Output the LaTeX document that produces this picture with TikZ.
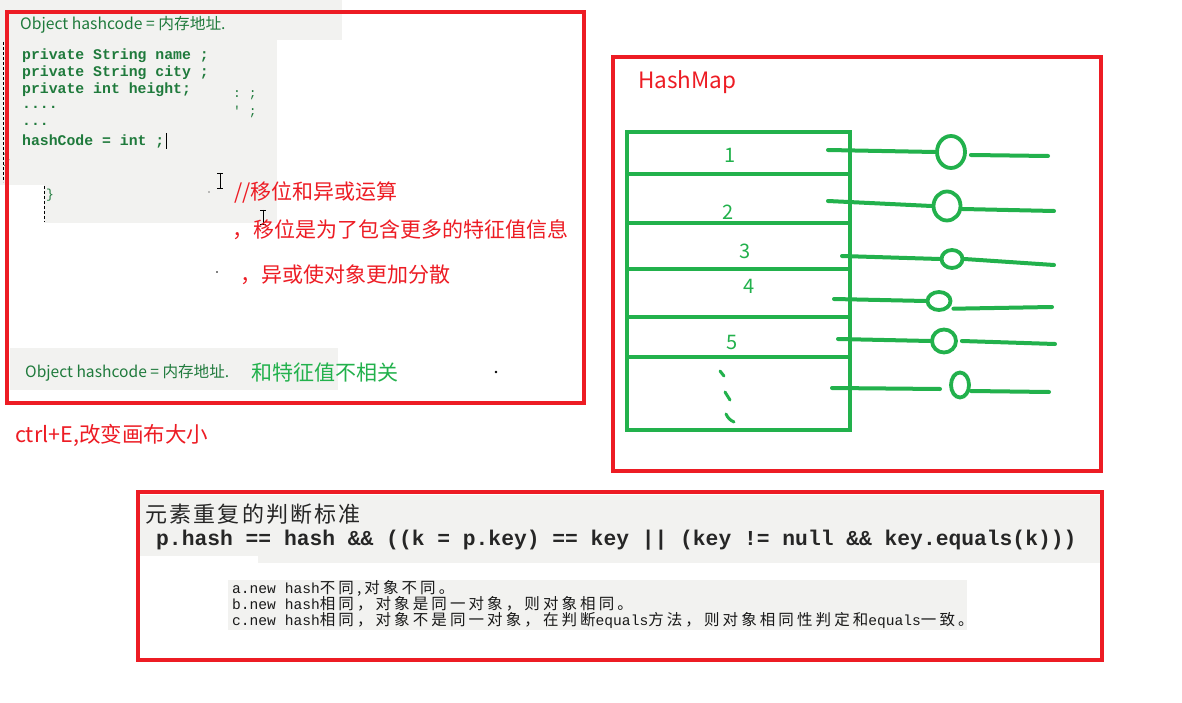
\documentclass[tikz,border=0pt]{standalone}
\usepackage{fontspec}
\usetikzlibrary{shapes.geometric}
\setmonofont{Liberation Mono}
\newfontfamily\cjk{Noto Sans CJK SC}
\newfontfamily\cjkw[LetterSpace=20]{Noto Sans CJK SC}
\newfontfamily\cjkt[LetterSpace=10]{Noto Sans CJK SC}
\definecolor{pred}{HTML}{ED1C24}
\definecolor{pgreen}{HTML}{22B14C}
\definecolor{cgreen}{HTML}{1F7A3C}
\definecolor{bg}{HTML}{F2F2F0}
\newcommand\zw[1]{{\cjkw\mdseries\fontsize{15.5}{16}\selectfont #1}}
\begin{document}
\begin{tikzpicture}[x=1pt,y=-1pt,
  redbox/.style={draw=pred,line width=4pt},
  txt/.style={anchor=west,inner sep=0pt},
  code/.style={txt,font=\ttfamily\bfseries\fontsize{14.8}{15}\selectfont,text=cgreen},
  rednote/.style={txt,font=\cjk\fontsize{21}{21}\selectfont,text=pred},
  hm/.style={draw=pgreen,line width=4pt,line cap=round},
  knot/.style={draw=pgreen,line width=3.8pt,ellipse,inner sep=0pt},
  num/.style={anchor=center,inner sep=0pt,font=\cjk\fontsize{20}{20}\selectfont,text=pgreen},
  abc/.style={txt,font=\ttfamily\fontsize{14.6}{15}\selectfont,text=black!90}
]
\useasboundingbox (0,0) rectangle (1182,703);
\fill[white] (0,0) rectangle (1182,703);
% grey backgrounds
\fill[bg] (0,0) rectangle (342,40);
\fill[bg] (0,40) rectangle (277,185);
\fill[bg] (44,185) rectangle (277,223);
\fill[bg] (10,348) rectangle (338,390);
\fill[bg] (139,495) rectangle (1100,556);
\fill[bg] (258,556) rectangle (1100,563);
\fill[bg] (228,580) rectangle (967,630);
% small artefacts
\draw[densely dashed,line width=0.6pt] (3,42) -- (3,182);
\draw[densely dashed,line width=0.6pt] (44,186) -- (44,222);
\node[txt,font=\ttfamily\fontsize{13}{13}\selectfont,text=cgreen] (br1) at (3,160) {\}};
\node[txt,font=\ttfamily\fontsize{13}{13}\selectfont,text=cgreen] (br2) at (46,195) {\}};
\node[txt,font=\ttfamily\fontsize{13}{13}\selectfont,text=cgreen] (fr1) at (233,95) {: ;};
\node[txt,font=\ttfamily\fontsize{13}{13}\selectfont,text=cgreen] (fr2) at (233,112) {' ;};
\draw[line width=0.8pt] (166,133) -- (166,149);
\draw[line width=0.8pt] (220,173) -- (220,188) (217,173) -- (223,173) (217,188) -- (223,188);
\draw[line width=0.8pt] (263,210) -- (263,224) (260,210) -- (266,210) (260,224) -- (266,224);
\fill (217,272) circle (0.8);
\fill (496,372) circle (1.4);
\fill (209,192) circle (0.6);
% first red box
\draw[redbox] (7,12) rectangle (584,403);
\node[txt,font=\cjk\fontsize{15.7}{16}\selectfont,text=cgreen] (oh1) at (20,25) {Object hashcode = 内存地址.};
\node[code] (c1) at (22,56) {private String name ;};
\node[code] (c2) at (22,73) {private String city ;};
\node[code] (c3) at (22,90) {private int height;};
\node[code] (c4) at (22,107) {....};
\node[code] (c5) at (22,124) {...};
\node[code] (c6) at (22,141) {hashCode = int ;};
\node[rednote] (r1) at (234,192) {//移位和异或运算};
\node[rednote] (r2) at (232,230) {，移位是为了包含更多的特征值信息};
\node[rednote] (r3) at (240,275) {，异或使对象更加分散};
\node[txt,font=\cjk\fontsize{15.6}{16}\selectfont,text=cgreen] (oh2) at (25,373) {Object hashcode = 内存地址.};
\node[txt,font=\cjk\fontsize{21}{21}\selectfont,text=pgreen] (unrel) at (251,373) {和特征值不相关};
\node[txt,font=\cjk\fontsize{21.5}{22}\selectfont,text=pred] (ctrl) at (15,435) {ctrl+E,改变画布大小};
% HashMap box
\draw[redbox] (613,57) rectangle (1101,471);
\node[txt,font=\cjk\fontsize{22.5}{23}\selectfont,text=pred] (hmt) at (638,82) {HashMap};
\draw[hm,line cap=butt] (627,132) rectangle (850,430);
\draw[hm,line cap=butt] (627,174) -- (850,174);
\draw[hm,line cap=butt] (627,223) -- (850,223);
\draw[hm,line cap=butt] (627,269) -- (850,269);
\draw[hm,line cap=butt] (627,317) -- (850,317);
\draw[hm,line cap=butt] (627,357) -- (850,357);
\node[num] (n1) at (730,155) {1};
\node[num] (n2) at (728,212) {2};
\node[num] (n3) at (745,251) {3};
\node[num] (n4) at (749,286) {4};
\node[num] (n5) at (732,342) {5};
\draw[pgreen,line width=3pt,line cap=round] (720,371) -- (724,376);
\draw[pgreen,line width=3pt,line cap=round] (725,392) -- (730,400);
\draw[pgreen,line width=3pt,line cap=round] (726,414) to[bend right=20] (734,422);
% chains
\node[knot,minimum width=28pt,minimum height=32pt] (k1) at (951,152) {};
\node[knot,minimum width=27pt,minimum height=29pt] (k2) at (947,206) {};
\node[knot,minimum width=21pt,minimum height=18pt] (k3) at (952,259) {};
\node[knot,minimum width=23pt,minimum height=18pt] (k4) at (939,301) {};
\node[knot,minimum width=24pt,minimum height=23pt] (k5) at (944,341) {};
\node[knot,minimum width=18pt,minimum height=25pt] (k6) at (960,385) {};
\coordinate (s1) at (828,150); \coordinate (e1) at (1048,156);
\coordinate (s2) at (828,201); \coordinate (e2) at (1054,211);
\coordinate (s3) at (842,256); \coordinate (e3) at (1054,265);
\coordinate (s4) at (834,299); \coordinate (e4) at (1052,307);
\coordinate (s5) at (838,339); \coordinate (e5) at (1055,344);
\coordinate (s6) at (832,388); \coordinate (e6) at (1049,392);
\draw[hm] (s1) -- (k1.west);
\draw[hm] ([xshift=4pt]k1.east |- 0,155) -- (e1);
\draw[hm] (s2) -- (k2.west);
\draw[hm] (k2.east |- 0,209) -- (e2);
\draw[hm] (s3) -- (k3.west);
\draw[hm] (k3.east) -- (e3);
\draw[hm] (s4) -- (k4.west);
\draw[hm] ([xshift=5pt]k4.south east) -- (e4);
\draw[hm] (s5) -- (k5.west);
\draw[hm] ([xshift=4pt]k5.east) -- (e5);
\draw[hm] (s6) -- (940,389);
\draw[hm] (k6.east |- 0,391) -- (e6);
% bottom box
\draw[redbox] (138,492) rectangle (1102,660);
\node[txt,font=\cjkt\fontsize{22}{22}\selectfont,text=black!85] (crit) at (145,514) {元素重复的判断标准};
\node[txt,font=\ttfamily\bfseries\fontsize{21.3}{22}\selectfont,text=black!85] (cond) at (156,540) {p.hash == hash \&\& ((k = p.key) == key || (key != null \&\& key.equals(k)))};
\node[abc] (la) at (232,588) {a.new hash\zw{不同,对象不同。}};
\node[abc] (lb) at (232,604) {b.new hash\zw{相同，对象是同一对象，则对象相同。}};
\node[abc] (lc) at (232,620) {c.new hash\zw{相同，对象不是同一对象，在判断}equals\zw{方法，则对象相同性判定和}equals\zw{一致。}};
\end{tikzpicture}
\end{document}
